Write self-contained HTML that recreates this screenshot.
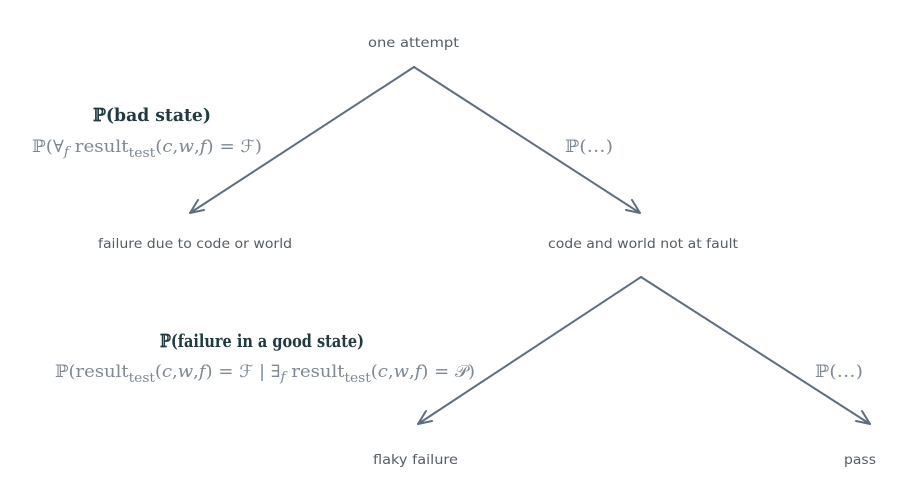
<!DOCTYPE html>
<html><head><meta charset="utf-8"><style>
html,body{margin:0;padding:0;background:#fff;}
svg{display:block;}
.lbl{font-family:"DejaVu Sans","Liberation Sans",sans-serif;font-size:13.5px;fill:#555c63;}
.ttl{font-family:"DejaVu Serif","Liberation Serif",serif;font-size:18px;font-weight:bold;fill:#1f3a40;}
.f{font-family:"DejaVu Serif","Liberation Serif",serif;font-size:17px;fill:#7d8894;}
.s{font-size:13px;}
</style></head><body>
<svg width="916" height="499" viewBox="0 0 916 499" xmlns="http://www.w3.org/2000/svg">
<g stroke="#5e6e80" stroke-width="2" fill="none" stroke-linecap="round">
<path d="M414 67 L190 213 M190 213 L198 200 M190 213 L204 210"/>
<path d="M414 67 L640 213 M640 213 L626 210 M640 213 L632 200"/>
<path d="M641 277 L418 424 M418 424 L426 411 M418 424 L432 421"/>
<path d="M641 277 L870 424 M870 424 L856 421 M870 424 L862 411"/>
</g>
<text class="lbl" x="368" y="47" textLength="91" lengthAdjust="spacingAndGlyphs">one attempt</text>
<text class="lbl" x="98" y="248" textLength="194" lengthAdjust="spacingAndGlyphs">failure due to code or world</text>
<text class="lbl" x="548" y="248" textLength="190" lengthAdjust="spacingAndGlyphs">code and world not at fault</text>
<text class="lbl" x="373" y="464" textLength="85" lengthAdjust="spacingAndGlyphs">flaky failure</text>
<text class="lbl" x="844" y="464" textLength="32" lengthAdjust="spacingAndGlyphs">pass</text>
<text class="ttl" x="93" y="121" textLength="118" lengthAdjust="spacingAndGlyphs">ℙ(bad state)</text>
<text class="f" x="32" y="152" textLength="230" lengthAdjust="spacingAndGlyphs">ℙ(∀<tspan class="s" dy="4" font-style="italic">f</tspan><tspan dy="-4"> result</tspan><tspan class="s" dy="5">test</tspan><tspan dy="-5">(</tspan><tspan font-style="italic">c</tspan>,<tspan font-style="italic">w</tspan>,<tspan font-style="italic">f</tspan>) = ℱ)</text>
<text class="f" x="565" y="152" textLength="48" lengthAdjust="spacingAndGlyphs">ℙ(…)</text>
<text class="ttl" x="160" y="347" textLength="204" lengthAdjust="spacingAndGlyphs">ℙ(failure in a good state)</text>
<text class="f" x="55" y="377" textLength="420" lengthAdjust="spacingAndGlyphs">ℙ(result<tspan class="s" dy="5">test</tspan><tspan dy="-5">(</tspan><tspan font-style="italic">c</tspan>,<tspan font-style="italic">w</tspan>,<tspan font-style="italic">f</tspan>) = ℱ | ∃<tspan class="s" dy="4" font-style="italic">f</tspan><tspan dy="-4"> result</tspan><tspan class="s" dy="5">test</tspan><tspan dy="-5">(</tspan><tspan font-style="italic">c</tspan>,<tspan font-style="italic">w</tspan>,<tspan font-style="italic">f</tspan>) = 𝒫)</text>
<text class="f" x="815" y="377" textLength="48" lengthAdjust="spacingAndGlyphs">ℙ(…)</text>
</svg>
</body></html>
